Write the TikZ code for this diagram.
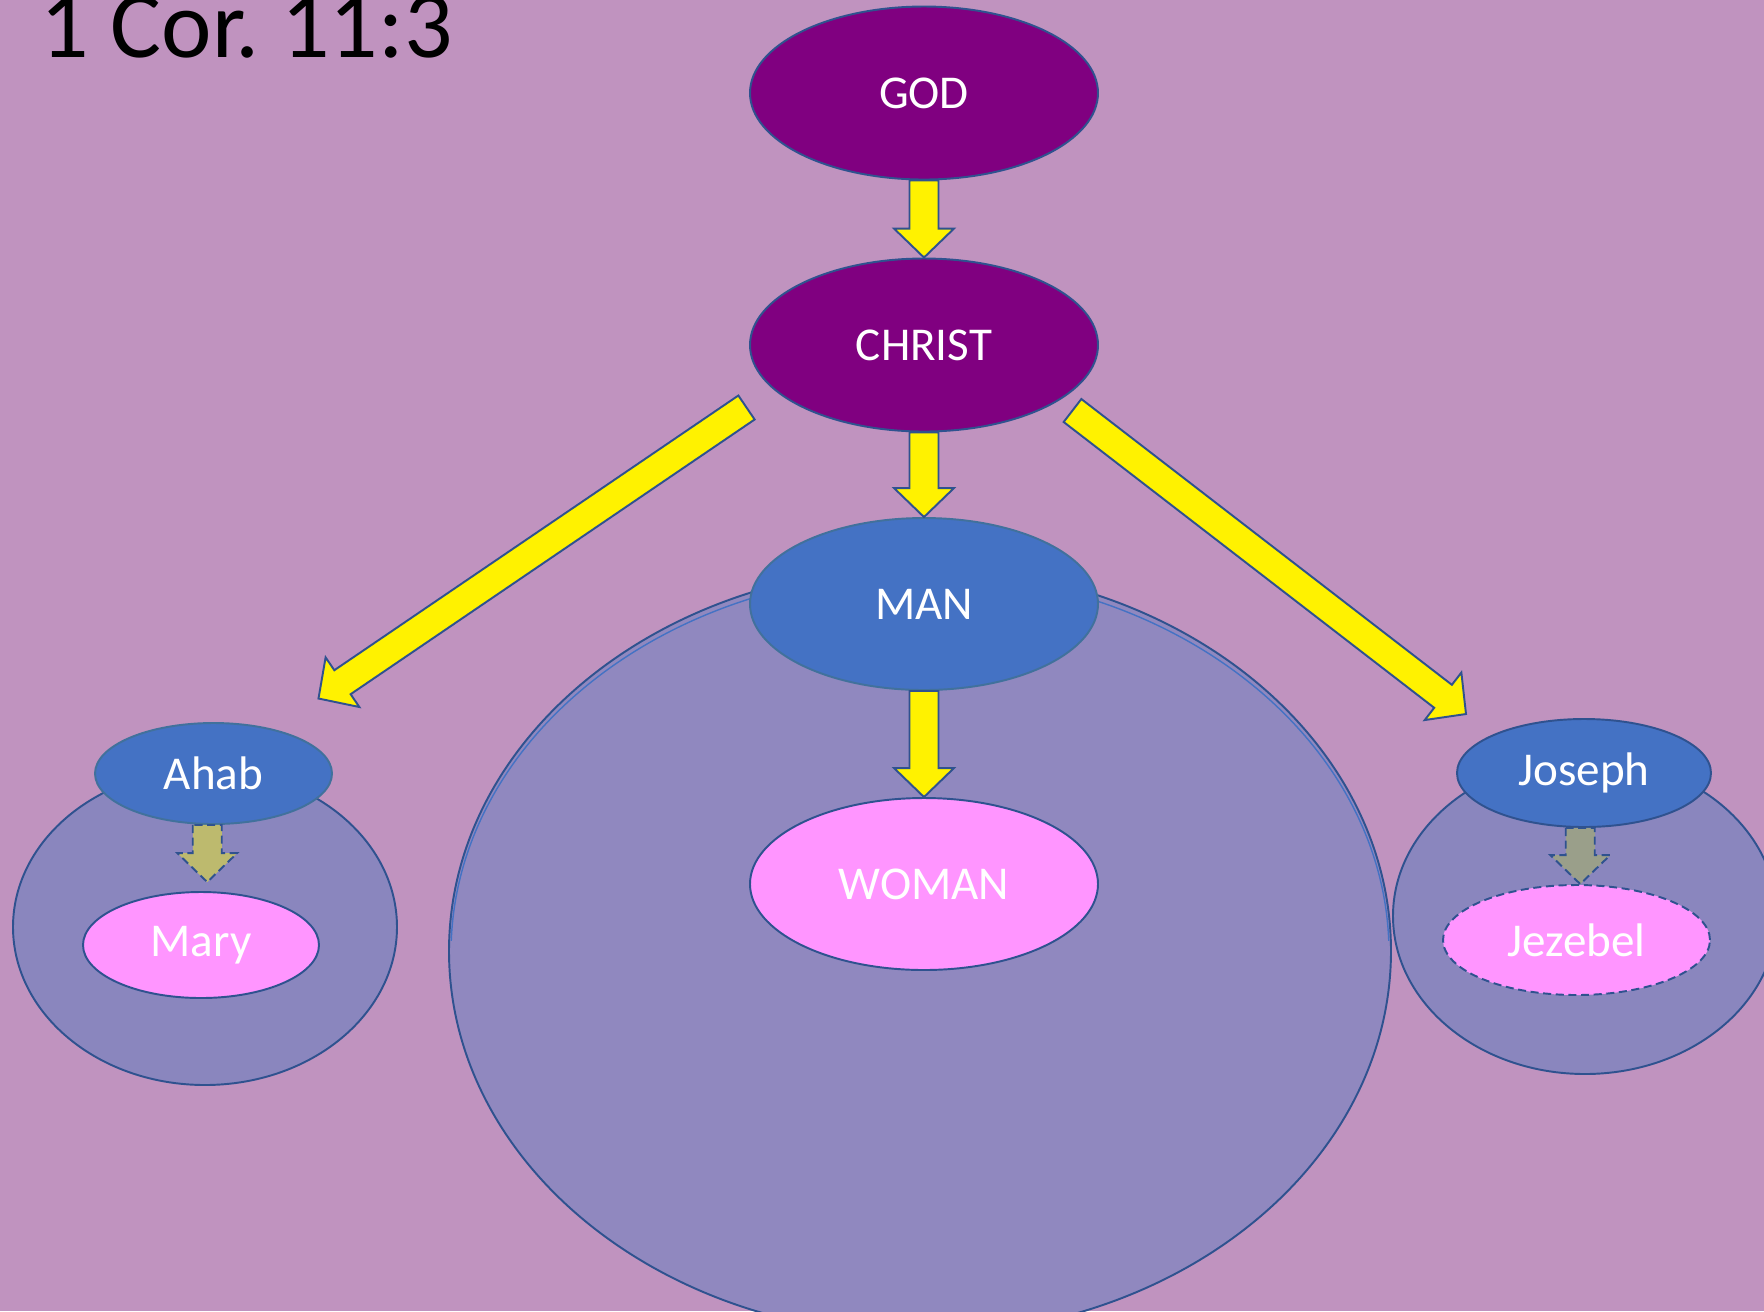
\documentclass[tikz,border=0pt]{standalone}
\usepackage{fontspec}
\setmainfont{Carlito}
\usepackage{xcolor}
\usepackage{tikz}
\usetikzlibrary{shapes,calc,positioning}
\frenchspacing
\definecolor{slidebg}{RGB}{192,147,191}
\definecolor{headpurple}{RGB}{128,0,128}
\definecolor{manblue}{RGB}{68,114,196}
\definecolor{wifepink}{RGB}{255,149,255}
\definecolor{homefill}{RGB}{144,136,191}
\definecolor{smallhome}{RGB}{138,134,190}
\definecolor{edgeblue}{RGB}{47,82,143}
\definecolor{edgeteal}{RGB}{65,113,156}
\definecolor{olivefill}{RGB}{189,186,110}
\definecolor{greyfill}{RGB}{154,159,138}
% block arrow from tail #2 to tip #3
\newcommand{\blockarrow}[3][]{%
  \coordinate (hb) at ($(#3)!2.9mm!(#2)$);
  \draw[barrow,#1] ($(#2)!1.45mm!-90:(#3)$) -- ($(hb)!1.45mm!-90:(#3)$)
    -- ($(hb)!3mm!-90:(#3)$) -- (#3) -- ($(hb)!3mm!90:(#3)$)
    -- ($(hb)!1.45mm!90:(#3)$) -- ($(#2)!1.45mm!90:(#3)$) -- cycle;
}

\begin{document}
\begin{tikzpicture}[x=0.1mm, y=-0.1mm, font=\fontsize{13.4}{16}\selectfont]
        % Styles
        \tikzstyle{oval} = [ellipse, draw=edgeblue, line width=0.55pt, text=white, inner sep=0pt]
        \tikzstyle{head} = [oval, fill=headpurple, minimum width=34.8mm, minimum height=17.3mm]
        \tikzstyle{husband} = [oval, fill=manblue]
        \tikzstyle{wife} = [oval, fill=wifepink]
        \tikzstyle{household} = [oval, fill=smallhome]
        \tikzstyle{barrow} = [draw=edgeblue, line width=0.55pt, fill=yellow, line join=miter]
        \tikzstyle{weak} = [dash pattern=on 2.3pt off 1.3pt]

        \useasboundingbox (0,0) rectangle (1764,1311);
        \fill[slidebg] (0,0) rectangle (1764,1311);
        \clip (0,0) rectangle (1764,1311);

        \node [anchor=base west, inner sep=0pt, font=\fontsize{27.2}{32}\selectfont] (title) at (40,57) {1 Cor. 11:3};

        % Households
        \node [household, fill=homefill, minimum width=94.2mm, minimum height=76.8mm] (home) at (920,951) {};
        \begin{scope}
          \clip (0,0) rectangle (1764,940);
          \node [ellipse, draw=manblue, line width=0.4pt, minimum width=93.8mm, minimum height=76mm] (homeedge) at (920,953) {};
        \end{scope}
        \node [household, minimum width=38.4mm, minimum height=31.6mm] (ahabhome) at (205,927) {};
        \node [household, minimum width=38.4mm, minimum height=31.6mm] (josephhome) at (1585,916) {};

        % Nodes
        \node [head] (god) at (924,93) {GOD};
        \node [head] (christ) at (924,345) {CHRIST};
        \node [husband, draw=edgeteal, minimum width=34.8mm, minimum height=17.2mm] (man) at (924,604) {MAN};
        \node [wife, minimum width=34.8mm, minimum height=17.2mm] (woman) at (924,884) {WOMAN};
        \node [husband, draw=edgeteal, minimum width=23.7mm, minimum height=10.1mm] (ahab) at (213.5,773.5) {Ahab};
        \node [wife, minimum width=23.6mm, minimum height=10.6mm] (mary) at (201,945) {Mary};
        \node [husband, minimum width=25.4mm, minimum height=10.8mm] (joseph) at (1584,773) {Joseph};
        \node [wife, weak, minimum width=26.7mm, minimum height=11mm] (jezebel) at (1576.5,940) {Jezebel};

        % Edges
        \blockarrow{god.south}{christ.north}
        \blockarrow{christ.south}{man.north}
        \blockarrow{man.south}{woman.north}
        \coordinate (lefttail) at ($(christ)+(-177.5,62.5)$);
        \coordinate (lefttip) at ($(ahab)+(105,-75)$);
        \blockarrow{lefttail}{lefttip}
        \coordinate (righttail) at ($(christ)+(148.5,65.5)$);
        \coordinate (righttip) at ($(joseph)+(-118,-59)$);
        \blockarrow{righttail}{righttip}

        \coordinate (am) at ($(ahab.south)!0.5!(mary.north)$);
        \coordinate (amtail) at (ahab.south -| am);
        \coordinate (amtip) at ($(mary.north -| am)+(0,-9)$);
        \blockarrow[fill=olivefill, weak]{amtail}{amtip}
        \coordinate (jj) at ($(joseph.south)!0.5!(jezebel.north)$);
        \coordinate (jjtail) at (joseph.south -| jj);
        \coordinate (jjtip) at (jezebel.north -| jj);
        \blockarrow[fill=greyfill, weak]{jjtail}{jjtip}

    \end{tikzpicture}
\end{document}
